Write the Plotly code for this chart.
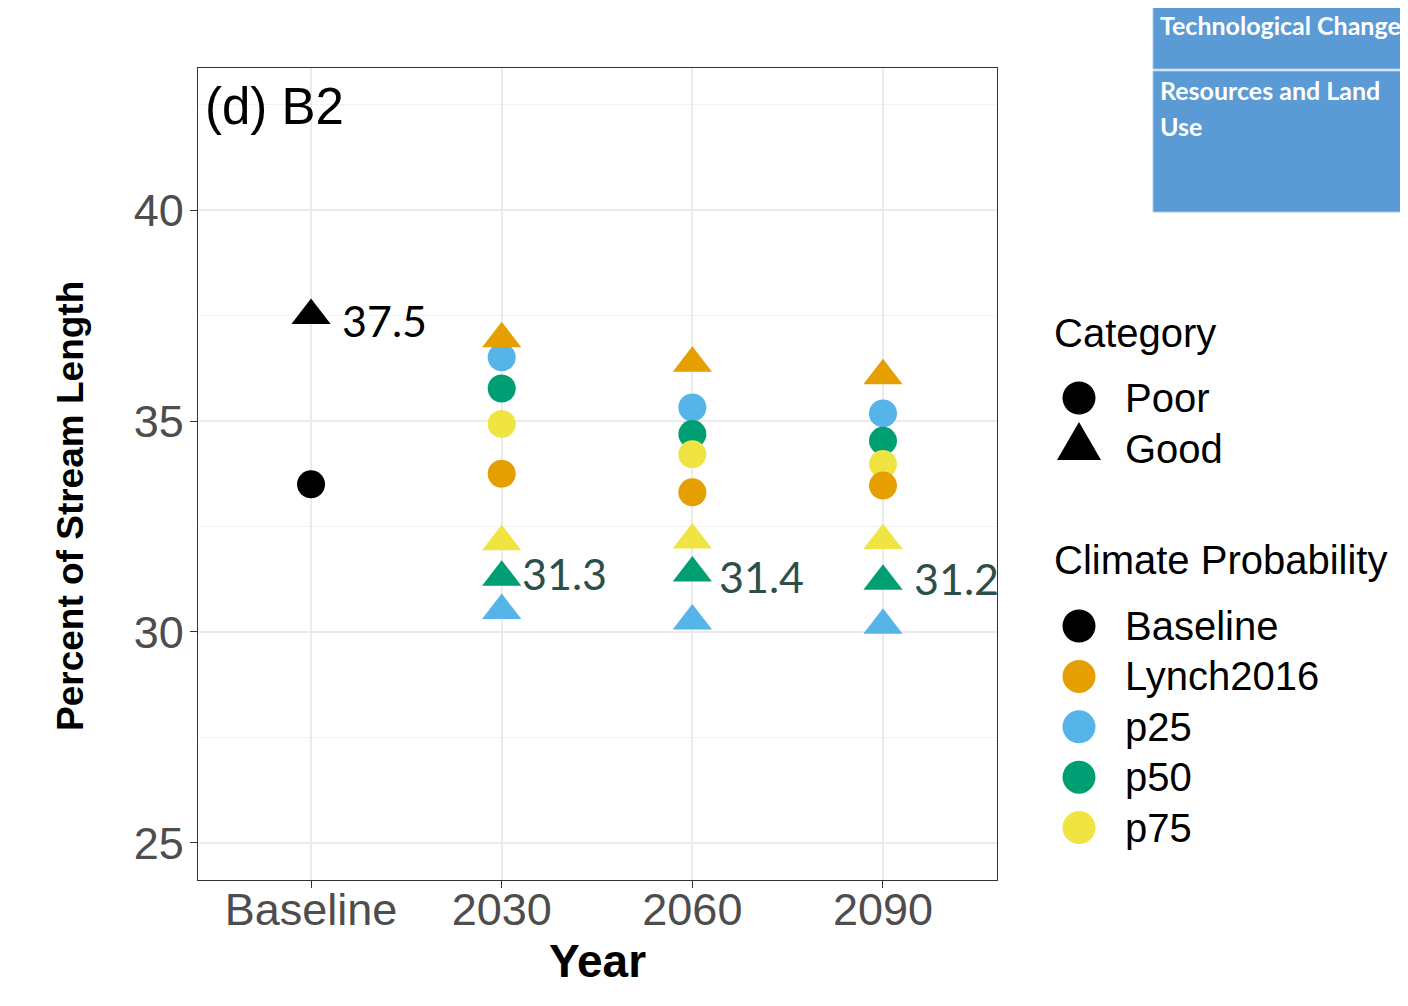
import plotly.graph_objects as go

# ---------------- data ----------------
categories = ["Baseline", "2030", "2060", "2090"]
future_years = ["2030", "2060", "2090"]

baseline_poor = [33.5]
baseline_good = [37.5]

lynch_poor = [33.75, 33.31, 33.47]
lynch_good = [36.95, 36.37, 36.07]

p25_poor = [36.51, 35.32, 35.18]
p25_good = [30.51, 30.26, 30.16]

p50_poor = [35.77, 34.69, 34.53]
p50_good = [31.3, 31.4, 31.2]

p75_poor = [34.93, 34.21, 33.98]
p75_good = [32.14, 32.18, 32.17]

category_labels = ["Poor", "Good"]
probability_labels = ["Baseline", "Lynch2016", "p25", "p50", "p75"]
y_ticks = [25, 30, 35, 40]

# ---------------- styles ----------------
COLORS = {"Baseline": "#000000", "Lynch2016": "#E69F00", "p25": "#56B4E9",
          "p50": "#009E73", "p75": "#F0E442"}
SYMBOLS = {"Poor": "circle", "Good": "triangle-up"}
SIZES = {"Poor": 28, "Good": 34}
FONT = "Liberation Sans, Arial, sans-serif"
NUMFONT = "Lato, Carlito, sans-serif"
# pixel nudges (xshift, yshift) of the value labels, per category
LABEL_SHIFT = {"Baseline": (29, -5), "2030": (18, 4), "2060": (25, -4), "2090": (29, 3)}

# page has an 8px body margin, so the figure is drawn 8px smaller / shifted
PAGE_OFF = 8
W, H = 1408 - PAGE_OFF, 1006 - PAGE_OFF
# plot panel edges in screen pixels
L, R, T, B = 198, 997, 68, 880


def px_x(px):
    return (px - L) / (R - L)


def px_y(py):
    return (B - py) / (B - T)


series = {
    "Baseline": (["Baseline"], baseline_poor, baseline_good),
    "p25": (future_years, p25_poor, p25_good),
    "p50": (future_years, p50_poor, p50_good),
    "p75": (future_years, p75_poor, p75_good),
    "Lynch2016": (future_years, lynch_poor, lynch_good),
}

fig = go.Figure()
for name, (xs, poor, good) in series.items():
    fig.add_trace(go.Scatter(
        x=list(xs) + list(xs),
        y=list(poor) + list(good),
        mode="markers",
        name=name,
        showlegend=False,
        marker=dict(
            color=COLORS[name],
            opacity=1,
            symbol=[SYMBOLS["Poor"]] * len(poor) + [SYMBOLS["Good"]] * len(good),
            size=[SIZES["Poor"]] * len(poor) + [SIZES["Good"]] * len(good),
            line=dict(width=0),
        ),
        hovertemplate=name + " %{x}: %{y}<extra></extra>",
    ))

annotations = []
# value labels on the Good points (category index positions on the category axis)
for xs, vals, col in [(["Baseline"], baseline_good, "#000000"),
                      (future_years, p50_good, "#2D4F47")]:
    for xv, v in zip(xs, vals):
        dx, dy = LABEL_SHIFT[xv]
        annotations.append(dict(
            x=categories.index(xv), y=v, xref="x", yref="y", text=f"{v:.1f}",
            showarrow=False, xanchor="left", yanchor="middle", xshift=dx, yshift=dy,
            font=dict(family=NUMFONT, size=43, color=col)))

# panel tag
annotations.append(dict(
    x=px_x(203), y=px_y(76), xref="paper", yref="paper", text="(d) B2",
    showarrow=False, xanchor="left", yanchor="top",
    font=dict(family=FONT, size=51, color="#000000")))

# y axis title (placed as in the original figure)
annotations.append(dict(
    x=px_x(71), y=px_y(506), xref="paper", yref="paper",
    text="<b>Percent of Stream Length</b>", textangle=-90, showarrow=False,
    xanchor="center", yanchor="middle",
    font=dict(family=FONT, size=37, color="#000000")))

# ---------------- manual legend ----------------
shapes = []
key_x = px_x(1079)
text_x = px_x(1123)
annotations.append(dict(
    x=px_x(1052), y=px_y(333), xref="paper", yref="paper", text="Category",
    showarrow=False, xanchor="left", yanchor="middle",
    font=dict(family=FONT, size=40, color="#000000")))
row_y = [398, 449]
for lab, ry in zip(category_labels, row_y):
    if SYMBOLS[lab] == "circle":
        shapes.append(dict(type="circle", xref="paper", yref="paper",
                           xsizemode="pixel", ysizemode="pixel",
                           xanchor=key_x, yanchor=px_y(ry),
                           x0=-16.5, x1=16.5, y0=-16.5, y1=16.5,
                           fillcolor="#000000", line=dict(width=0)))
    else:
        shapes.append(dict(type="path", xref="paper", yref="paper",
                           xsizemode="pixel", ysizemode="pixel",
                           xanchor=key_x, yanchor=px_y(ry),
                           path="M-22,-11 L22,-11 L0,27 Z",
                           fillcolor="#000000", line=dict(width=0)))
    annotations.append(dict(
        x=text_x, y=px_y(ry), xref="paper", yref="paper", text=lab,
        showarrow=False, xanchor="left", yanchor="middle",
        font=dict(family=FONT, size=40, color="#000000")))

annotations.append(dict(
    x=px_x(1052), y=px_y(560), xref="paper", yref="paper",
    text="Climate Probability", showarrow=False, xanchor="left", yanchor="middle",
    font=dict(family=FONT, size=40, color="#000000")))
for i, lab in enumerate(probability_labels):
    ry = 626 + i * 50.4
    shapes.append(dict(type="circle", xref="paper", yref="paper",
                       xsizemode="pixel", ysizemode="pixel",
                       xanchor=key_x, yanchor=px_y(ry),
                       x0=-16.5, x1=16.5, y0=-16.5, y1=16.5,
                       fillcolor=COLORS[lab], line=dict(width=0)))
    annotations.append(dict(
        x=text_x, y=px_y(ry), xref="paper", yref="paper", text=lab,
        showarrow=False, xanchor="left", yanchor="middle",
        font=dict(family=FONT, size=40, color="#000000")))

# ---------------- slide decorations ----------------
BLUE = "#5B9BD5"
shapes += [
    dict(type="rect", xref="paper", yref="paper", x0=px_x(1153), x1=px_x(1420),
         y0=px_y(0), y1=px_y(69), fillcolor=BLUE, line=dict(color="#A9C8E8", width=1)),
    dict(type="rect", xref="paper", yref="paper", x0=px_x(1153), x1=px_x(1420),
         y0=px_y(71), y1=px_y(212), fillcolor=BLUE, line=dict(color="#A9C8E8", width=1)),
]
for txt, ty in [("Technological Change", PAGE_OFF), ("Resources and Land", 73), ("Use", 109)]:
    annotations.append(dict(
        x=px_x(1158), y=px_y(ty), xref="paper", yref="paper", text=f"<b>{txt}</b>",
        showarrow=False, xanchor="left", yanchor="top",
        font=dict(family=NUMFONT, size=25, color="#FFFFFF")))

fig.update_layout(
    width=W, height=H,
    margin=dict(l=L - PAGE_OFF, r=W - (R - PAGE_OFF), t=T - PAGE_OFF,
                b=H - (B - PAGE_OFF), pad=0),
    paper_bgcolor="#FFFFFF", plot_bgcolor="#FFFFFF",
    font=dict(family=FONT, color="#000000"),
    showlegend=False,
    annotations=annotations,
    shapes=shapes,
)
fig.update_xaxes(
    type="category", categoryorder="array", categoryarray=categories,
    range=[-0.593, 3.598],
    showgrid=True, gridcolor="#EBEBEB", gridwidth=1.5,
    showline=True, linecolor="#333333", linewidth=1.3, mirror=True,
    ticks="outside", ticklen=7, tickwidth=1.3, tickcolor="#333333",
    ticklabelstandoff=-17,
    tickfont=dict(family=FONT, size=45, color="#4D4D4D"),
    title=dict(text="<b>Year</b>", font=dict(family=FONT, size=46, color="#000000"),
               standoff=0),
    zeroline=False,
)
fig.update_yaxes(
    range=[24.123, 43.365],
    tickvals=y_ticks, ticktext=[str(v) for v in y_ticks],
    showgrid=True, gridcolor="#EBEBEB", gridwidth=1.5,
    minor=dict(showgrid=True, gridcolor="#F2F2F2", gridwidth=1, dtick=2.5, tick0=0),
    showline=True, linecolor="#333333", linewidth=1.3, mirror=True,
    ticks="outside", ticklen=7, tickwidth=1.3, tickcolor="#333333",
    ticklabelstandoff=-3,
    tickfont=dict(family=FONT, size=45, color="#4D4D4D"),
    zeroline=False,
)

fig.write_html("out.html")
